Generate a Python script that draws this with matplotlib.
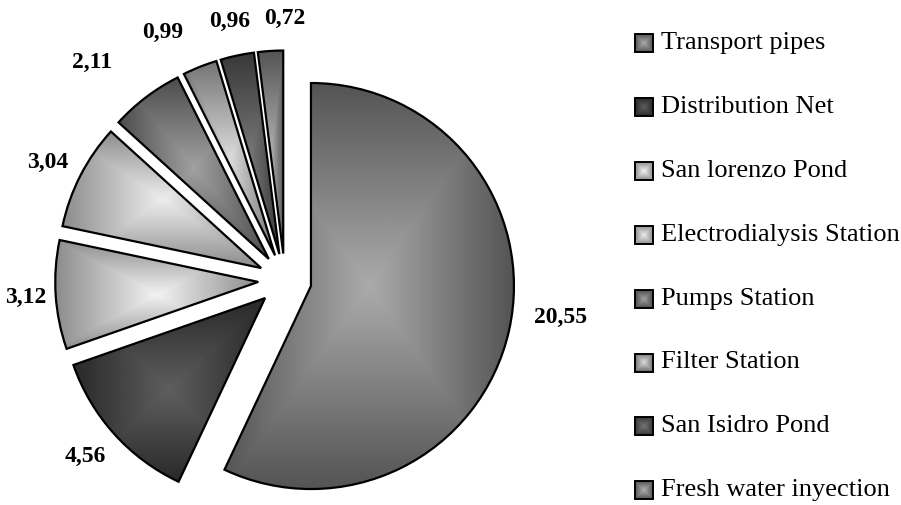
import numpy as np
import matplotlib
matplotlib.use('Agg')
import matplotlib.pyplot as plt
from matplotlib.patches import Rectangle

# cost shares per component
components = ['Transport pipes', 'Distribution Net', 'San lorenzo Pond',
              'Electrodialysis Station', 'Pumps Station', 'Filter Station',
              'San Isidro Pond', 'Fresh water inyection']
values = [20.55, 4.56, 3.12, 3.04, 2.11, 0.99, 0.96, 0.72]

# (centre grey, edge grey) of the bevel fill for each slice
shades = [(0.67, 0.33), (0.37, 0.16), (0.95, 0.55), (0.93, 0.55),
          (0.63, 0.30), (0.86, 0.45), (0.46, 0.22), (0.69, 0.33)]
# value label placement: distance from slice centre and turn (deg) off the mid angle
label_dist = [1.24, 1.18, 1.15, 1.17, 1.30, 1.23, 1.17, 1.16]
label_turn = [5.5, -0.6, 0.2, 0.8, 4.7, 5.0, 0.0, -4.0]

W, H = 901, 505
plt.rcParams['font.family'] = ['Liberation Serif', 'DejaVu Serif']

fig = plt.figure(figsize=(W / 100, H / 100), dpi=100)

# pie centre and radius in pixels
cx, cy, rad = 284.9, 280.2, 203.0
xl, yl = 1.40, 1.38
ax = fig.add_axes([(cx - xl * rad) / W, (H - cy - yl * rad) / H,
                   2 * xl * rad / W, 2 * yl * rad / H])


def bevel(axis, patch, c0, c1, extent):
    n = 200
    u = np.abs(np.linspace(-1, 1, n))
    t = np.maximum(u[None, :], u[:, None])
    g = c0 + (c1 - c0) * t
    im = axis.imshow(g, cmap='gray', vmin=0, vmax=1, extent=extent,
                     aspect='auto', interpolation='bilinear', zorder=1)
    im.set_clip_path(patch)


explode = [0.1315] * len(values)
wedges, _ = ax.pie(values, startangle=90, counterclock=False, explode=explode,
                   wedgeprops=dict(edgecolor='black', linewidth=1.6))

for w, (c0, c1), v, d, turn in zip(wedges, shades, values, label_dist, label_turn):
    w.set_facecolor('none')
    w.set_zorder(2)
    bb = w.get_path().get_extents()
    bevel(ax, w, c0, c1, (bb.x0, bb.x1, bb.y0, bb.y1))
    mid = np.deg2rad((w.theta1 + w.theta2) / 2 + turn)
    x0, y0 = w.center
    ax.text(x0 + d * np.cos(mid), y0 + d * np.sin(mid),
            f'{v:.2f}'.replace('.', ','), ha='center', va='center',
            fontsize=17, fontweight='bold', zorder=3)

ax.set_aspect('auto')
ax.set_xlim(-xl, xl)
ax.set_ylim(-yl, yl)
ax.axis('off')

# legend drawn in pixel coordinates
lg = fig.add_axes([0, 0, 1, 1])
lg.axis('off')
row0, step = 43.0, 63.9
for i, (name, (c0, c1)) in enumerate(zip(components, shades)):
    yc = row0 + i * step
    box = Rectangle((635, yc - 9), 18, 18, facecolor='none',
                    edgecolor='black', linewidth=1.4, zorder=2)
    lg.add_patch(box)
    bevel(lg, box, c0, c1, (635, 653, yc + 9, yc - 9))
    lg.text(661, yc, name, ha='left', va='center', fontsize=19)
lg.set_xlim(0, W)
lg.set_ylim(H, 0)

fig.savefig('out.png', dpi=100)
